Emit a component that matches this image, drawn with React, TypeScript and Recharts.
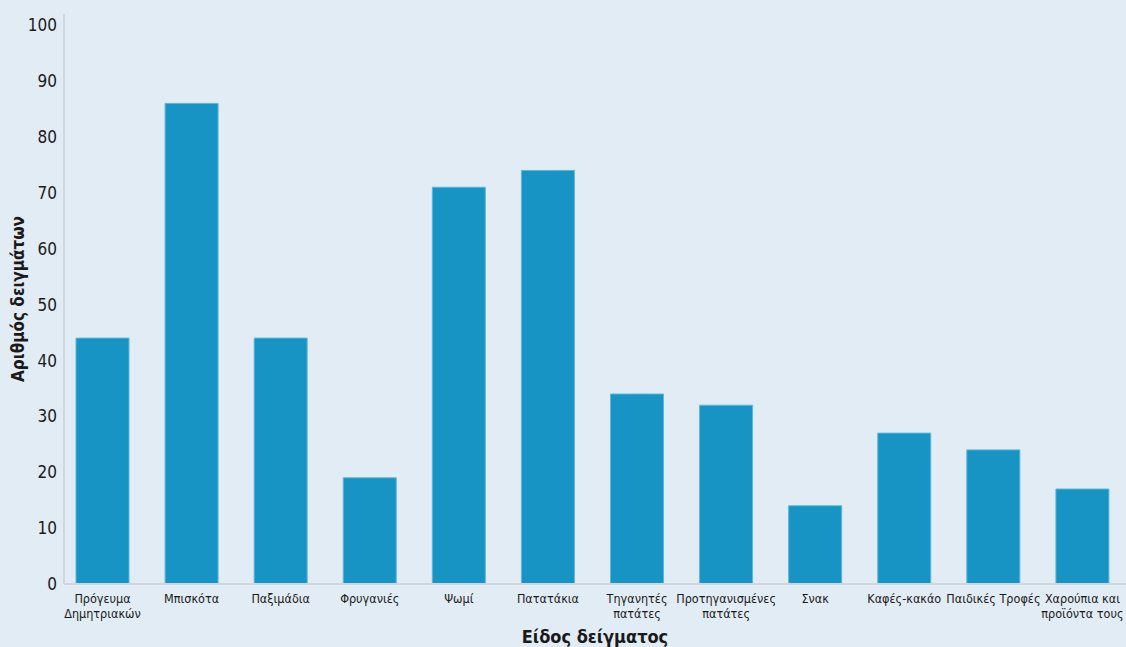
import React from "react";
import { BarChart, Bar, XAxis, YAxis, Label } from "recharts";

const categories = [
  "Πρόγευμα\nΔημητριακών",
  "Μπισκότα",
  "Παξιμάδια",
  "Φρυγανιές",
  "Ψωμί",
  "Πατατάκια",
  "Τηγανητές\nπατάτες",
  "Προτηγανισμένες\nπατάτες",
  "Σνακ",
  "Καφές-κακάο",
  "Παιδικές Τροφές",
  "Χαρούπια και\nπροϊόντα τους",
];
const sampleCounts = [44, 86, 44, 19, 71, 74, 34, 32, 14, 27, 24, 17];
const yTicks = [0, 10, 20, 30, 40, 50, 60, 70, 80, 90, 100];

const data = categories.map((c, i) => ({ name: c, value: sampleCounts[i] }));

const FONT = "'DejaVu Sans Condensed', 'Liberation Sans Narrow', sans-serif";

const XTick = (props: any) => {
  const { x, y, payload } = props;
  const lines = String(payload.value).split("\n");
  return (
    <text
      x={x}
      y={y}
      textAnchor="middle"
      fill="#1a1a1a"
      fontSize={12.5}
      fontFamily={FONT}
      style={{ fontStretch: "condensed" }}
    >
      {lines.map((l, i) => (
        <tspan key={i} x={x} dy={i === 0 ? "0.85em" : "1.2em"}>
          {l}
        </tspan>
      ))}
    </text>
  );
};

export default function App() {
  return (
    <div style={{ width: 1126, height: 647, background: "#e2ecf5" }}>
      <style>{`body{margin:0}`}</style>
      <BarChart
        width={1126}
        height={647}
        data={data}
        margin={{ top: 14, right: 0, left: 0, bottom: 0 }}
        barSize={53}
      >
        <XAxis
          dataKey="name"
          interval={0}
          height={63}
          tickLine={false}
          tickSize={0}
          tickMargin={8}
          padding={{ left: -6, right: -1 }}
          axisLine={{ stroke: "#cfd6dd", strokeWidth: 2 }}
          tick={<XTick />}
        >
          <Label
            value="Είδος δείγματος"
            position="insideBottom"
            offset={4}
            style={{ fontFamily: FONT, fontStretch: "condensed", fontSize: 18, fontWeight: 700, fill: "#1a1a1a" }}
          />
        </XAxis>
        <YAxis
          domain={[0, 102]}
          ticks={yTicks}
          width={64}
          tickLine={false}
          tickSize={0}
          tickMargin={7}
          axisLine={{ stroke: "#cfd6dd", strokeWidth: 2 }}
          tick={{ fill: "#1a1a1a", fontSize: 17, fontFamily: FONT, style: { fontStretch: "condensed" } } as any}
        >
          <Label
            value="Αριθμός δειγμάτων"
            angle={-90}
            position="insideLeft"
            offset={18}
            style={{ textAnchor: "middle", fontFamily: FONT, fontStretch: "condensed", fontSize: 17, fontWeight: 700, fill: "#1a1a1a" }}
          />
        </YAxis>
        <Bar dataKey="value" fill="#1794c3" stroke="#5cb7dc" strokeWidth={1} isAnimationActive={false} />
      </BarChart>
    </div>
  );
}
